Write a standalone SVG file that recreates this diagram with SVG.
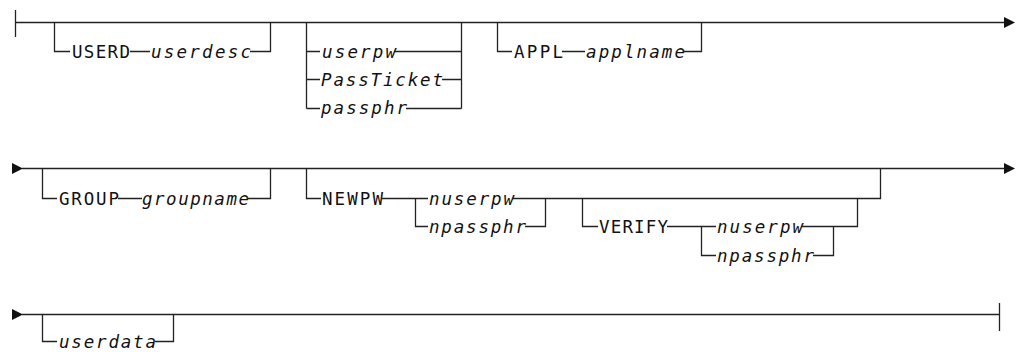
<svg xmlns="http://www.w3.org/2000/svg" width="1021" height="352" viewBox="0 0 1021 352">
<style>
.ln{fill:none;stroke:#222;stroke-width:1.3}
.kw{font-family:"DejaVu Sans Mono","Liberation Mono",monospace;font-size:17.5px;fill:#111}
.var{font-family:"DejaVu Sans Mono","Liberation Mono",monospace;font-size:17.5px;font-style:italic;fill:#111}
</style>
<defs>
<path id="arr" d="M-11,-5.5 L0,0 L-11,5.5 Z" fill="#111"/>
</defs>
<rect width="1021" height="352" fill="#fff"/>
<g id="connectors">
<path class="ln" d="M15.5,10 V37 M15.5,22.5 H1005"/>
<path class="ln" d="M54.5,22.5 V51.5 H70 M130,51.5 H150 M250,51.5 H270.5 V22.5"/>
<path class="ln" d="M306.5,22.5 V108.5 M306.5,51.5 H320 M306.5,79.5 H320 M306.5,108.5 H320 M395,51.5 H461.5 M442,79.5 H461.5 M406,108.5 H461.5 M461.5,22.5 V108.5"/>
<path class="ln" d="M497.5,22.5 V51.5 H512 M562,51.5 H585 M684,51.5 H701.5 V22.5"/>
<use href="#arr" x="1015" y="22.5"/>
<use href="#arr" x="23" y="168.5"/>
<path class="ln" d="M22,168.5 H1005"/>
<use href="#arr" x="1015" y="168.5"/>
<path class="ln" d="M42.5,168.5 V198.5 H57 M118,198.5 H142 M248,198.5 H270.5 V168.5"/>
<path class="ln" d="M306.5,168.5 V198.5 H321 M382,198.5 H428 M415.5,198.5 V226.5 H428 M513,198.5 H880.5 V168.5 M525,226.5 H545.5 V198.5"/>
<path class="ln" d="M582.5,198.5 V226.5 H598 M667,226.5 H716 M701.5,226.5 V255.5 H716 M802,226.5 H857.5 V198.5 M813,255.5 H833.5 V226.5"/>
<use href="#arr" x="23" y="314.5"/>
<path class="ln" d="M22,314.5 H999.5 M999.5,303 V331"/>
<path class="ln" d="M42.5,314.5 V341.5 H57 M155,341.5 H173.5 V314.5"/>
</g>
<g id="n-userd"><text class="kw" x="72" y="57.5" textLength="58" lengthAdjust="spacing">USERD</text></g>
<g id="n-userdesc"><text class="var" x="151" y="57.5" textLength="100" lengthAdjust="spacing">userdesc</text></g>
<g id="n-userpw"><text class="var" x="322" y="57.5" textLength="74" lengthAdjust="spacing">userpw</text></g>
<g id="n-passticket"><text class="var" x="321" y="85.5" textLength="122" lengthAdjust="spacing">PassTicket</text></g>
<g id="n-passphr"><text class="var" x="321" y="114" textLength="86" lengthAdjust="spacing">passphr</text></g>
<g id="n-appl"><text class="kw" x="514" y="57.5" textLength="49" lengthAdjust="spacing">APPL</text></g>
<g id="n-applname"><text class="var" x="586" y="57.5" textLength="99" lengthAdjust="spacing">applname</text></g>
<g id="n-group"><text class="kw" x="59" y="204.5" textLength="60" lengthAdjust="spacing">GROUP</text></g>
<g id="n-groupname"><text class="var" x="142" y="204.5" textLength="107" lengthAdjust="spacing">groupname</text></g>
<g id="n-newpw"><text class="kw" x="322" y="204.5" textLength="61" lengthAdjust="spacing">NEWPW</text></g>
<g id="n-nuserpw1"><text class="var" x="429" y="204.5" textLength="85" lengthAdjust="spacing">nuserpw</text></g>
<g id="n-npassphr1"><text class="var" x="429" y="232.5" textLength="97" lengthAdjust="spacing">npassphr</text></g>
<g id="n-verify"><text class="kw" x="599" y="232.5" textLength="69" lengthAdjust="spacing">VERIFY</text></g>
<g id="n-nuserpw2"><text class="var" x="717" y="232.5" textLength="86" lengthAdjust="spacing">nuserpw</text></g>
<g id="n-npassphr2"><text class="var" x="717" y="261.5" textLength="97" lengthAdjust="spacing">npassphr</text></g>
<g id="n-userdata"><text class="var" x="59" y="347.5" textLength="97" lengthAdjust="spacing">userdata</text></g>
</svg>
